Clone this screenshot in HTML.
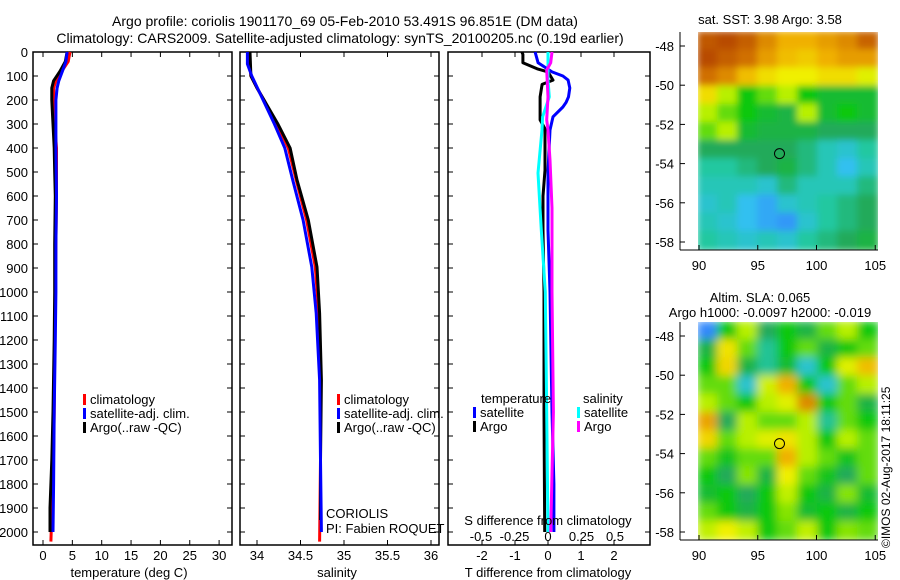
<!DOCTYPE html>
<html><head><meta charset="utf-8">
<style>
html,body{margin:0;padding:0;background:#fff;}
svg{display:block;font-family:"Liberation Sans",sans-serif;}
text{font-size:13px;fill:#000;}
</style></head>
<body>
<svg id="fig" width="900" height="580" viewBox="0 0 900 580" xmlns="http://www.w3.org/2000/svg">
<defs>
<clipPath id="clipSST"><rect x="698" y="32" width="180" height="218"/></clipPath>
<clipPath id="clipSLA"><rect x="698" y="322" width="180" height="218"/></clipPath>
<filter id="blurS" x="-5%" y="-5%" width="110%" height="110%"><feGaussianBlur stdDeviation="3.5"/></filter>
<filter id="blurL" x="-5%" y="-5%" width="110%" height="110%"><feGaussianBlur stdDeviation="4.5"/></filter>
</defs>
<text x="345" y="26" text-anchor="middle" style="font-size:14px">Argo profile: coriolis 1901170_69 05-Feb-2010 53.491S 96.851E (DM data)</text>
<text x="340" y="43" text-anchor="middle" style="font-size:14px">Climatology: CARS2009. Satellite-adjusted climatology: synTS_20100205.nc (0.19d earlier)</text>
<g id="g1"></g>
<g id="g2"></g>
<g id="g3"></g>
<g id="g4"></g>
<g id="g5"></g>
<text transform="translate(890,548) rotate(-90)" style="font-size:12px">©IMOS 02-Aug-2017 18:11:25</text>
</svg>
<script>
// ---- data ----
const depthTicks = [0,100,200,300,400,500,600,700,800,900,1000,1100,1200,1300,1400,1500,1600,1700,1800,1900,2000];
const tempTicks = [0,5,10,15,20,25,30];
const salTicks = [34,34.5,35,35.5,36];
const tdiffTicks = [-2,-1,0,1,2];
const sdiffTicks = [-0.5,-0.25,0,0.25,0.5];

const tArgoDepth = [0,40,80,120,150,200,300,400,500,600,800,1000,1200,1500,1700,1900,2000];
const tArgoVal   = [4.1,3.8,2.9,1.8,1.5,1.5,1.7,1.9,2.0,2.1,2.0,2.0,1.9,1.7,1.5,1.2,1.2];
const tClimDepth = [0,40,80,120,150,200,300,400,600,800,1000,1200,1500,1800,2000,2040];
const tClimVal   = [4.6,4.3,3.2,2.2,1.8,1.9,2.0,2.3,2.3,2.2,2.1,2.0,1.9,1.7,1.4,1.35];
const tSatDepth  = [0,40,80,120,150,200,300,400,600,800,1000,1200,1500,1800,2000];
const tSatVal    = [4.1,3.9,3.3,2.7,2.4,2.2,2.2,2.2,2.3,2.2,2.2,2.1,1.9,1.8,1.7];

const sArgoDepth = [0,100,150,200,300,400,533,700,896,1088,1367,1700,1950];
const sArgoVal   = [33.92,33.93,34.0,34.08,34.24,34.38,34.46,34.59,34.69,34.72,34.74,34.73,34.73];
const sClimDepth = [0,100,150,200,300,400,533,700,896,1088,1367,1700,2040];
const sClimVal   = [33.9,33.93,34.0,34.08,34.23,34.36,34.45,34.57,34.67,34.71,34.73,34.73,34.72];
const sSatDepth  = [0,50,100,200,300,400,533,700,896,1088,1367,1700,2000];
const sSatVal    = [33.89,33.89,33.94,34.07,34.2,34.32,34.41,34.53,34.63,34.68,34.72,34.73,34.74];

const dtArgoDepth = [0,10,45,70,83,117,135,187,283,320,492,600,742,1000,1500,2000];
const dtArgoVal   = [-0.79,-0.76,-0.76,-0.33,0,0.15,-0.18,-0.24,-0.24,-0.09,-0.09,-0.15,-0.15,-0.12,-0.12,-0.1];
const dtSatDepth  = [0,45,83,100,117,150,187,210,229,270,325,500,742,1000,1500,1800,2000];
const dtSatVal    = [-0.39,-0.3,0.12,0.45,0.61,0.66,0.62,0.55,0.45,0.15,0.06,0,0,0.06,0.12,0.18,0.18];
const dsSatDepth  = [0,117,187,270,325,504,742,1000,1500,2000];
const dsSatVal    = [0,0,0.01,-0.04,-0.045,-0.075,-0.05,-0.02,-0.01,0];
const dsArgoDepth = [0,45,75,187,283,325,450,650,1000,1500,2000];
const dsArgoVal   = [0.03,0.02,-0.01,0,-0.01,0,0.015,0.03,0.03,0.04,0.02];

const latTicks = [-48,-50,-52,-54,-56,-58];
const lonTicks = [90,95,100,105];
const argoLon = 96.851, argoLat = -53.491;
const sstGrid = [
[0.86,0.88,0.85,0.78,0.72,0.72,0.75,0.78,0.84],
[0.88,0.85,0.82,0.75,0.70,0.68,0.72,0.75,0.75],
[0.82,0.78,0.70,0.65,0.62,0.62,0.65,0.65,0.60],
[0.65,0.55,0.45,0.50,0.55,0.45,0.42,0.42,0.42],
[0.55,0.50,0.45,0.42,0.40,0.55,0.42,0.45,0.42],
[0.50,0.55,0.42,0.40,0.40,0.40,0.38,0.38,0.38],
[0.38,0.38,0.38,0.38,0.38,0.35,0.30,0.28,0.32],
[0.32,0.32,0.35,0.38,0.40,0.35,0.30,0.25,0.30],
[0.30,0.30,0.30,0.28,0.35,0.30,0.30,0.30,0.35],
[0.28,0.30,0.25,0.22,0.28,0.30,0.32,0.35,0.38],
[0.30,0.28,0.25,0.22,0.20,0.28,0.32,0.35,0.38],
[0.32,0.30,0.28,0.30,0.28,0.32,0.35,0.38,0.40]];
const slaGrid = [
[0.18,0.45,0.55,0.38,0.45,0.40,0.50,0.55,0.45],
[0.40,0.64,0.50,0.33,0.45,0.50,0.40,0.45,0.50],
[0.45,0.66,0.40,0.33,0.42,0.28,0.45,0.60,0.70],
[0.50,0.50,0.28,0.58,0.72,0.45,0.28,0.50,0.55],
[0.55,0.50,0.45,0.55,0.60,0.78,0.45,0.50,0.40],
[0.74,0.38,0.55,0.50,0.50,0.55,0.33,0.50,0.45],
[0.66,0.50,0.55,0.60,0.64,0.55,0.45,0.55,0.50],
[0.50,0.44,0.50,0.50,0.72,0.55,0.50,0.44,0.50],
[0.45,0.38,0.52,0.40,0.62,0.50,0.44,0.38,0.50],
[0.42,0.45,0.38,0.45,0.56,0.45,0.40,0.52,0.42],
[0.50,0.45,0.40,0.45,0.52,0.42,0.45,0.40,0.45],
[0.56,0.62,0.56,0.45,0.50,0.56,0.45,0.52,0.50]];

// ---- helpers ----
const NS = "http://www.w3.org/2000/svg";
function mk(tag, attrs, parent){ const e=document.createElementNS(NS,tag); for(const k in attrs) e.setAttribute(k,attrs[k]); parent.appendChild(e); return e; }
const TOP=52, BOT=545;
const yD = d => TOP + d*0.24;

function panel(g, x0, x1, xfun, ticks, tickFmt, showDepth, labelY){
  const r = mk('rect',{x:x0,y:TOP,width:x1-x0,height:BOT-TOP,fill:'none',stroke:'#000','stroke-width':1.5},g);
  
  
  depthTicks.forEach(d=>{
    const y=yD(d);
    mk('line',{x1:x0,x2:x0+5,y1:y,y2:y,stroke:'#000'},g);
    mk('line',{x1:x1,x2:x1-5,y1:y,y2:y,stroke:'#000'},g);
    if(showDepth){
      const t=mk('text',{x:28,y:y+5,'text-anchor':'end'},g); t.textContent=d;
      
      
    }
  });
  ticks.forEach(v=>{
    const x=xfun(v);
    mk('line',{x1:x,x2:x,y1:TOP,y2:TOP+5,stroke:'#000'},g);
    mk('line',{x1:x,x2:x,y1:BOT,y2:BOT-5,stroke:'#000'},g);
    if(labelY){
      const t=mk('text',{x:x,y:labelY,'text-anchor':'middle'},g); t.textContent=tickFmt(v);
      
      
    }
  });
}
function line(g, depths, vals, xfun, color, name){
  const pts = depths.map((d,i)=>xfun(vals[i]).toFixed(1)+','+yD(d).toFixed(1)).join(' ');
  const p = mk('polyline',{points:pts,fill:'none',stroke:color,'stroke-width':3,'stroke-linejoin':'round'},g);
  
  
}
function legend(g, x, y, color, label){
  mk('rect',{x:x,y:y-10,width:3,height:11,fill:color},g);
  const t=mk('text',{x:x+7,y:y},g); t.textContent=label;
  
  
}
function txt(g,x,y,s,anchor,name){
  const t=mk('text',{x:x,y:y,'text-anchor':anchor||'start'},g); t.textContent=s;
  
  
  return t;
}

// ---- panel 1: temperature ----
const g1=document.getElementById('g1');
const xT = v => 43 + v*5.87;
panel(g1,33,232,xT,tempTicks,v=>v,true,560);
line(g1,tClimDepth,tClimVal,xT,'#f00','climatology-temp-line');
line(g1,tArgoDepth,tArgoVal,xT,'#000','argo-temp-line');
line(g1,tSatDepth,tSatVal,xT,'#00f','satellite-temp-line');
legend(g1,83,404,'#f00','climatology');
legend(g1,83,418,'#00f','satellite-adj. clim.');
legend(g1,83,432,'#000','Argo(..raw -QC)');
txt(g1,129,577,'temperature (deg C)','middle','x-axis-title-temperature');

// ---- panel 2: salinity ----
const g2=document.getElementById('g2');
const xS = v => 257 + (v-34)*87;
panel(g2,240,439,xS,salTicks,v=>v,false,560);
line(g2,sClimDepth,sClimVal,xS,'#f00','climatology-salinity-line');
line(g2,sArgoDepth,sArgoVal,xS,'#000','argo-salinity-line');
line(g2,sSatDepth,sSatVal,xS,'#00f','satellite-salinity-line');
legend(g2,337,404,'#f00','climatology');
legend(g2,337,418,'#00f','satellite-adj. clim.');
legend(g2,337,432,'#000','Argo(..raw -QC)');
txt(g2,326,518,'CORIOLIS','start','data-centre-label');
txt(g2,326,533,'PI: Fabien ROQUET','start','pi-label');
txt(g2,337,577,'salinity','middle','x-axis-title-salinity');

// ---- panel 3: differences ----
const g3=document.getElementById('g3');
const xDT = v => 548 + v*33;
const xDS = v => 548 + v*134;
panel(g3,448,650,xDT,tdiffTicks,v=>v,false,560);
sdiffTicks.forEach(v=>{ txt(g3,xDS(v),541,String(v),'middle','s-diff-tick-label'); });
line(g3,dtArgoDepth,dtArgoVal,xDT,'#000','argo-temp-diff-line');
line(g3,dtSatDepth,dtSatVal,xDT,'#00f','satellite-temp-diff-line');
line(g3,dsSatDepth,dsSatVal,xDS,'#0ff','satellite-sal-diff-line');
line(g3,dsArgoDepth,dsArgoVal,xDS,'#f0f','argo-sal-diff-line');
txt(g3,481,403,'temperature','start','legend-title-temperature');
txt(g3,583,403,'salinity','start','legend-title-salinity');
legend(g3,473,417,'#00f','satellite');
legend(g3,473,431,'#000','Argo');
legend(g3,577,417,'#0ff','satellite');
legend(g3,577,431,'#f0f','Argo');
txt(g3,548,525,'S difference from climatology','middle','s-diff-axis-title');
txt(g3,548,577,'T difference from climatology','middle','t-diff-axis-title');

// ---- maps ----
const stops=[[0,[0,0,192]],[0.15,[48,112,255]],[0.25,[48,192,240]],[0.32,[32,200,160]],[0.38,[32,170,90]],[0.45,[16,200,16]],[0.55,[184,240,0]],[0.62,[240,240,0]],[0.72,[240,176,0]],[0.82,[208,112,0]],[0.9,[176,64,0]],[1,[128,0,0]]];
function cmap(v){
  for(let i=1;i<stops.length;i++){ if(v<=stops[i][0]){ const a=stops[i-1],b=stops[i],t=(v-a[0])/(b[0]-a[0]);
    return 'rgb('+a[1].map((c,j)=>Math.round(c+(b[1][j]-c)*t)).join(',')+')'; } }
  return 'rgb(128,0,0)';
}
const xLon = v => 699 + (v-90)*11.75;
function drawMap(g, y0, grid, clip, filt){
  const latY = v => y0 + 14 + (-48 - v)*19.6;
  const cg = mk('g',{'clip-path':'url(#'+clip+')'},g);
  const fg = mk('g',{filter:'url(#'+filt+')'},cg);
  const rows=grid.length, cols=grid[0].length, cw=180/cols, rh=218/rows;
  grid.forEach((row,r)=>row.forEach((v,c)=>{
    const cell=mk('rect',{x:(698+c*cw-1).toFixed(1),y:(y0+r*rh-1).toFixed(1),width:(cw+2).toFixed(1),height:(rh+2).toFixed(1),fill:cmap(v)},fg);
    
    
  }));
  mk('line',{x1:680,x2:680,y1:y0,y2:y0+218,stroke:'#000'},g);
  mk('line',{x1:680,x2:878,y1:y0+218,y2:y0+218,stroke:'#000'},g);
  latTicks.forEach(v=>{ const y=latY(v);
    mk('line',{x1:680,x2:685,y1:y,y2:y,stroke:'#000'},g);
    txt(g,674,y+5,String(v),'end','lat-tick-label'); });
  lonTicks.forEach(v=>{ const x=xLon(v);
    mk('line',{x1:x,x2:x,y1:y0+218,y2:y0+213,stroke:'#000'},g);
    txt(g,x,y0+238,String(v),'middle','lon-tick-label'); });
  const c=mk('ellipse',{cx:xLon(argoLon),cy:latY(argoLat),rx:5,ry:5,fill:'none',stroke:'#000','stroke-width':1},g);
  
  
}
const g4=document.getElementById('g4'), g5=document.getElementById('g5');
drawMap(g4,32,sstGrid,'clipSST','blurS');
drawMap(g5,322,slaGrid,'clipSLA','blurL');
txt(g4,770,24,'sat. SST: 3.98 Argo: 3.58','middle','sst-map-title');
txt(g5,760,302,'Altim. SLA: 0.065','middle','sla-map-title');
txt(g5,770,317,'Argo h1000: -0.0097 h2000: -0.019','middle','sla-map-subtitle');
</script>
</body></html>
